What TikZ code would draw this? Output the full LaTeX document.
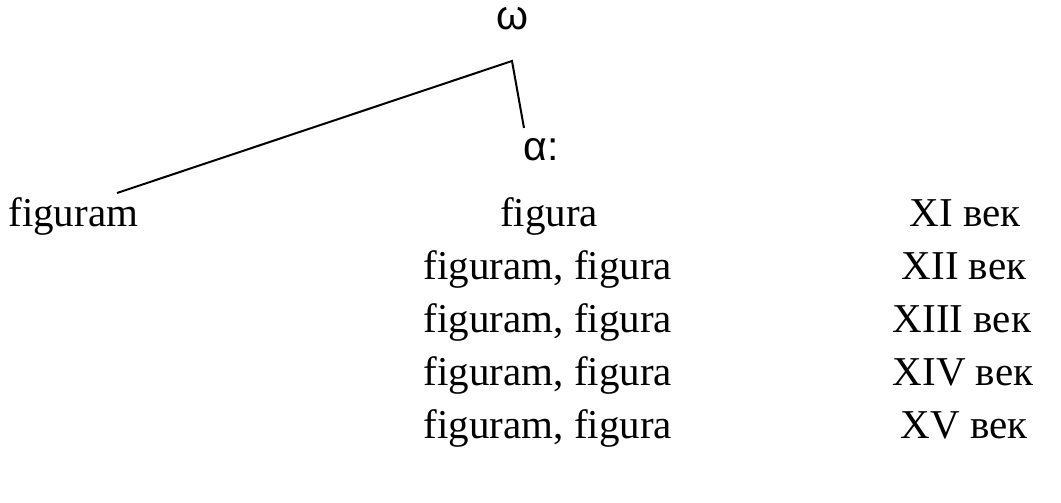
\documentclass[tikz,border=0pt]{standalone}
\usepackage{fontspec}
\setmainfont{Liberation Serif}
\newfontfamily\greekfont{Liberation Sans}
\begin{document}
\begin{tikzpicture}[x=0.5pt,y=-0.5pt,
  txt/.style={inner sep=0pt,anchor=base,font=\fontsize{20.5}{23}\selectfont},
  branch/.style={line width=1pt}]
\useasboundingbox (0,0) rectangle (1061,503);

\node[txt] (omega) at (513,30) {\greekfont ω};
\node[txt] (alpha) at (541,160) {\greekfont α:};

\node[txt,anchor=base west] (lat) at (8,226) {figuram};
\node[txt] (row1) at (549,226) {figura};
\node[txt] (cent1) at (965,226) {XI век};

\node[txt] (row2) at (548,279) {figuram, figura};
\node[txt] (cent2) at (964,279) {XII век};

\node[txt] (row3) at (548,332) {figuram, figura};
\node[txt] (cent3) at (962,332) {XIII век};

\node[txt] (row4) at (548,385) {figuram, figura};
\node[txt] (cent4) at (963,385) {XIV век};

\node[txt] (row5) at (548,438) {figuram, figura};
\node[txt] (cent5) at (964,438) {XV век};

\coordinate (root) at (512,61);
\coordinate (leftend) at (117,193);
\coordinate (rightend) at (524,128);
\draw[branch] (leftend) -- (root) -- (rightend);
\end{tikzpicture}
\end{document}
